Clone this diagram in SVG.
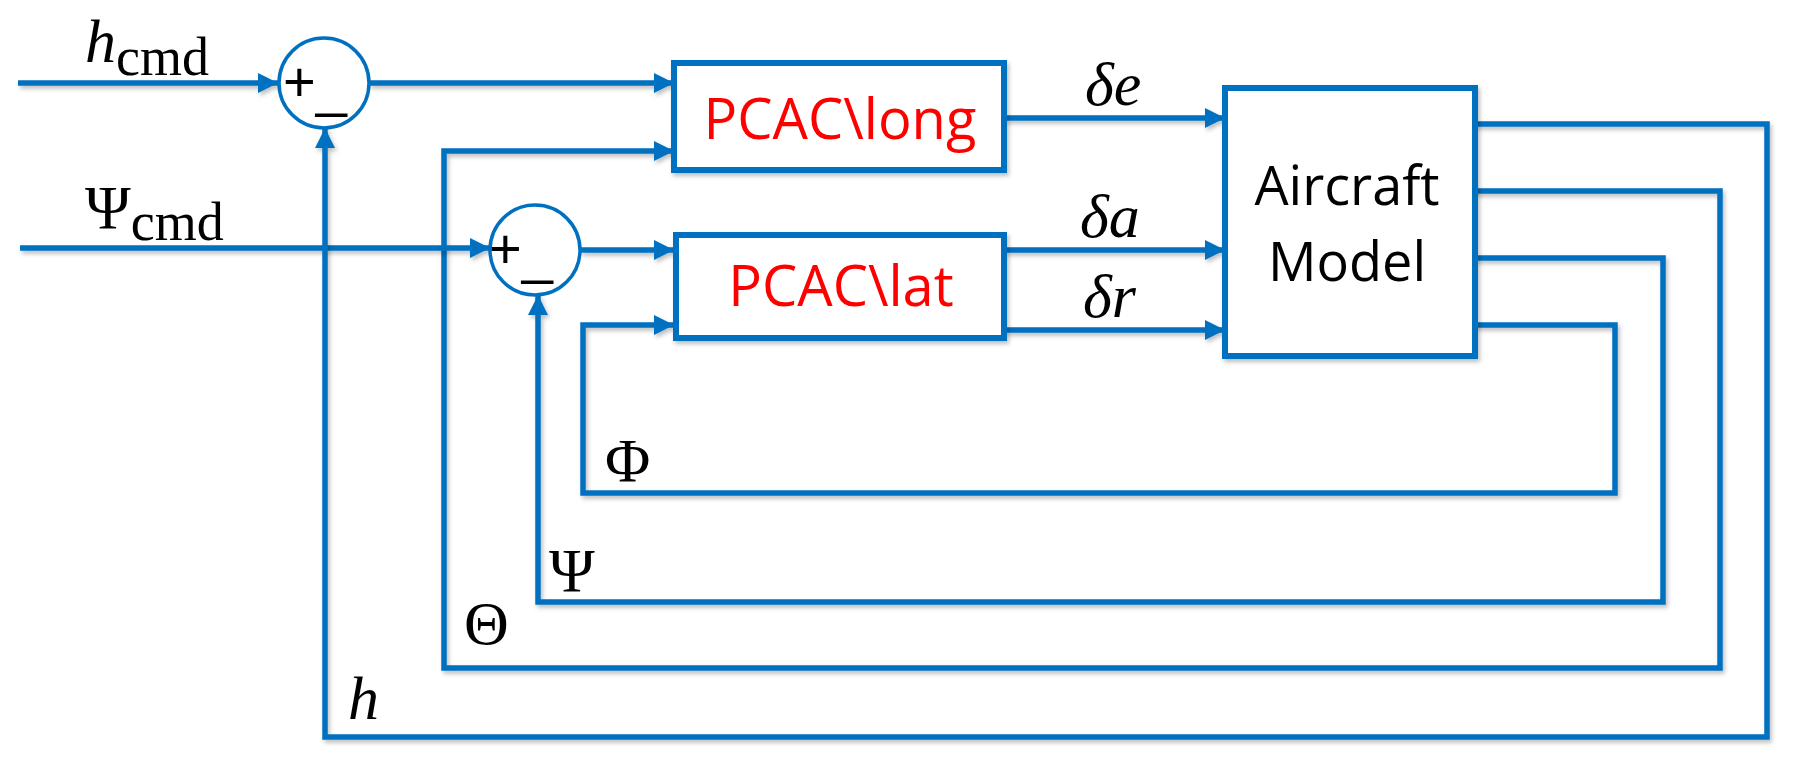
<svg xmlns="http://www.w3.org/2000/svg" width="1802" height="767" viewBox="0 0 1802 767">
<style>
.ln{fill:none;stroke:#0070C0;stroke-width:5.5;stroke-linejoin:miter;filter:url(#sh)}
.bx{fill:#fff;stroke:#0070C0;stroke-width:6;filter:url(#sh)}
.ci{fill:#fff;stroke:#0070C0;stroke-width:3.5}
.red{font-family:"Open Sans",sans-serif;font-size:56px;fill:#FF0000;text-anchor:middle}
.blk{font-family:"Open Sans",sans-serif;font-size:54px;fill:#000;text-anchor:middle}
.m{font-family:"Liberation Serif",serif;fill:#000}
.mi{font-family:"Liberation Serif",serif;font-style:italic;fill:#000}
.pm{font-family:"Liberation Sans",sans-serif;font-size:56px;fill:#000}
</style>
<defs>
<marker id="ah" markerUnits="userSpaceOnUse" markerWidth="20" markerHeight="20" refX="20" refY="10" orient="auto">
<path d="M0,0 L20,10 L0,20 z" fill="#0070C0"/>
</marker>
<filter id="sh" filterUnits="userSpaceOnUse" x="0" y="0" width="1802" height="767">
<feDropShadow dx="2" dy="3" stdDeviation="2" flood-color="#000" flood-opacity="0.25"/>
</filter>
</defs>
<g id="connectors">
<path class="ln" d="M18 83 H278" marker-end="url(#ah)"/>
<path class="ln" d="M369 83 H674" marker-end="url(#ah)"/>
<path class="ln" d="M1471 191 H1720 V668 H444 V151 H674" marker-end="url(#ah)"/>
<path class="ln" d="M1004 118 H1225" marker-end="url(#ah)"/>
<path class="ln" d="M20 248 H490" marker-end="url(#ah)"/>
<path class="ln" d="M580 250 H674" marker-end="url(#ah)"/>
<path class="ln" d="M1004 250 H1225" marker-end="url(#ah)"/>
<path class="ln" d="M1004 330 H1225" marker-end="url(#ah)"/>
<path class="ln" d="M1471 325 H1615 V493 H583 V325 H674" marker-end="url(#ah)"/>
<path class="ln" d="M1471 258 H1663 V602 H538 V295" marker-end="url(#ah)"/>
<path class="ln" d="M1471 124 H1767 V737 H325 V128" marker-end="url(#ah)"/>
</g>
<g id="sum1">
<circle class="ci" cx="324" cy="83" r="45"/>
<text class="pm" x="283" y="101">+<tspan dy="5">_</tspan></text>
</g>
<g id="sum2">
<circle class="ci" cx="535" cy="250" r="45"/>
<text class="pm" x="489" y="268">+<tspan dy="5">_</tspan></text>
</g>
<g id="pcac-long">
<rect class="bx" x="674" y="63" width="330" height="107"/>
<text class="red" x="840" y="139">PCAC\long</text>
</g>
<g id="pcac-lat">
<rect class="bx" x="676" y="235" width="328" height="103"/>
<text class="red" x="841" y="306">PCAC\lat</text>
</g>
<g id="aircraft">
<rect class="bx" x="1225" y="88" width="250" height="268"/>
<text class="blk" x="1347" y="205">Aircraft</text>
<text class="blk" x="1347" y="281">Model</text>
</g>
<g id="labels">
<text x="85" y="62"><tspan class="mi" font-size="62">h</tspan><tspan class="m" font-size="54" dy="13">cmd</tspan></text>
<text x="85" y="228"><tspan class="m" font-size="62">Ψ</tspan><tspan class="m" font-size="54" dy="12">cmd</tspan></text>
<text class="mi" x="1085" y="105" font-size="62">δe</text>
<text class="mi" x="1080" y="237" font-size="62">δa</text>
<text class="mi" x="1083" y="317" font-size="62">δr</text>
<text class="m" x="605" y="481" font-size="62">Φ</text>
<text class="m" x="549" y="591" font-size="62">Ψ</text>
<text class="m" x="464" y="644" font-size="62">Θ</text>
<text class="mi" x="348" y="719" font-size="62">h</text>
</g>
</svg>
